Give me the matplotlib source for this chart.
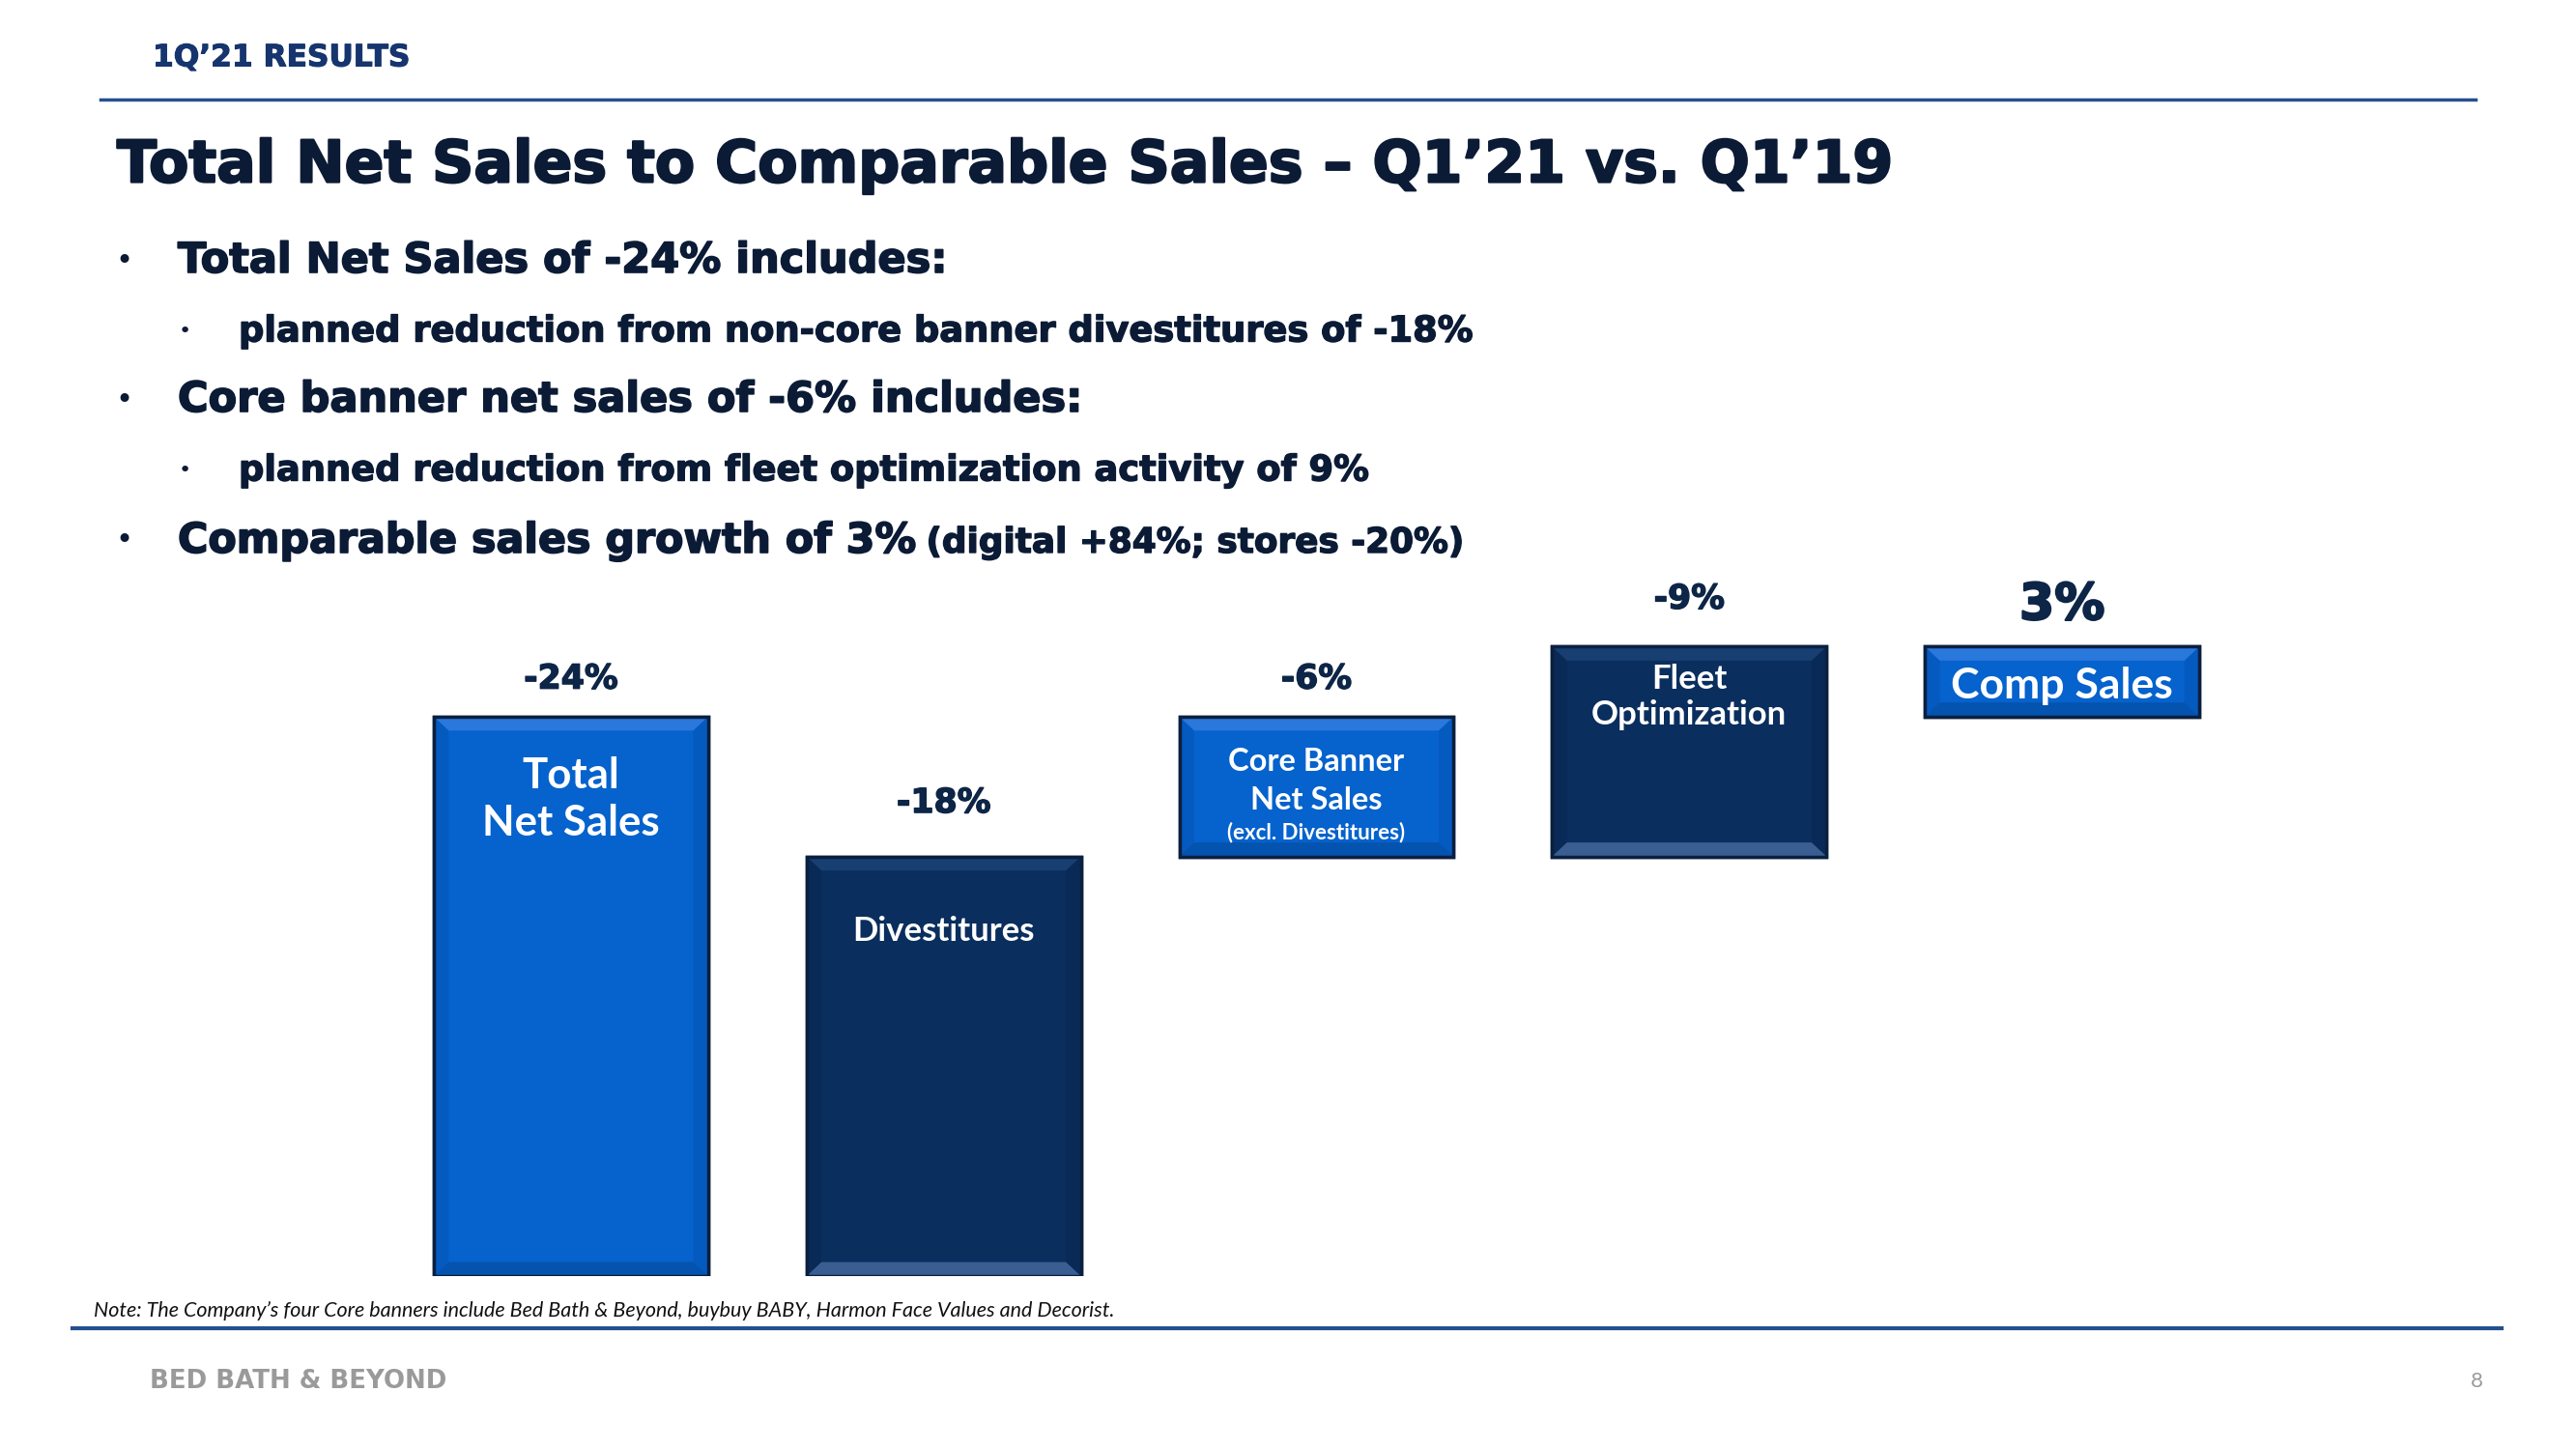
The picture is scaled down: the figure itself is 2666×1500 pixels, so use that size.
import matplotlib
matplotlib.use("Agg")
import matplotlib.pyplot as plt
import matplotlib.patheffects as pe
from matplotlib.patches import Polygon

# data
categories = ["Total\nNet Sales", "Divestitures", "Core Banner\nNet Sales", "Fleet\nOptimization", "Comp Sales"]
values = [-24, -18, -6, -9, 3]
value_labels = ["-24%", "-18%", "-6%", "-9%", "3%"]
bar_kind = ["light", "dark", "light", "dark", "light"]

bullets = [
    (0, "Total Net Sales of -24% includes:"),
    (1, "planned reduction from non-core banner divestitures of -18%"),
    (0, "Core banner net sales of -6% includes:"),
    (1, "planned reduction from fleet optimization activity of 9%"),
]
last_bullet = "Comparable sales growth of 3%"
last_bullet_note = "(digital +84%; stores -20%)"

W, H = 2666, 1500
LIGHT = "#0662CC"
DARK = "#0A2E5E"
EDGE = "#0B1F3F"
NAVY = "#0D2546"
INK = "#0B1B35"
HEAD = "DejaVu Sans"
BODY = "Lato"


def fx(x):
    return x / W


def fy(y):
    return 1 - y / H


def heavy(color, w=1.2):
    return [pe.withStroke(linewidth=w, foreground=color)]


fig = plt.figure(figsize=(W / 100, H / 100), dpi=100)
fig.patch.set_facecolor("white")

# header
fig.text(fx(158), fy(60), "1Q\u201921 RESULTS", family=HEAD, weight="bold", fontsize=22.5,
         color="#16356E", va="center", ha="left", path_effects=heavy("#16356E", 0.8))
fig.add_artist(plt.Line2D([fx(104), fx(2562)], [fy(103), fy(103)], color="#24508F", lw=2.5))
fig.text(fx(121), fy(172), "Total Net Sales to Comparable Sales \u2013 Q1\u201921 vs. Q1\u201919",
         family=HEAD, weight="bold", fontsize=43.3, color=INK, va="center", ha="left",
         path_effects=heavy(INK, 1.6))

# bullets
ys = [270, 343, 414, 487]
for (lvl, txt), y in zip(bullets, ys):
    if lvl == 0:
        fig.text(fx(128), fy(y), "\u2022", fontsize=22, color=INK, va="center", ha="center")
        fig.text(fx(184), fy(y), txt, family=HEAD, weight="bold", fontsize=31, color=INK,
                 va="center", ha="left", path_effects=heavy(INK, 1.2))
    else:
        fig.text(fx(191), fy(y), "\u2022", fontsize=16, color=INK, va="center", ha="center")
        fig.text(fx(247), fy(y), txt, family=HEAD, weight="bold", fontsize=26.5, color=INK,
                 va="center", ha="left", path_effects=heavy(INK, 1.0))

fig.text(fx(128), fy(560), "\u2022", fontsize=22, color=INK, va="center", ha="center")
t = fig.text(fx(184), fy(560), last_bullet, family=HEAD, weight="bold", fontsize=30.8,
             color=INK, va="center", ha="left", path_effects=heavy(INK, 1.2))
r = fig.canvas.get_renderer()
bb = t.get_window_extent(r)
fig.text(bb.x1 / W + fx(10), fy(562), last_bullet_note, family=HEAD, weight="bold", fontsize=25.8,
         color=INK, va="center", ha="left", path_effects=heavy(INK, 1.0))

# waterfall
ax = fig.add_axes([398 / W, (H - 1321) / H, 1929 / W, 724 / H])
ax.set_xlim(-0.5, 4.5)
ax.set_ylim(0, 30)
ax.axis("off")

heights = [abs(v) for v in values]
bottoms = [0, 0, heights[1], heights[1], heights[1] + heights[3] - heights[4]]
xs = list(range(len(values)))
bw = 0.736
cols = [LIGHT if k == "light" else DARK for k in bar_kind]
ax.bar(xs, heights, bottom=bottoms, width=bw, color=cols, edgecolor=EDGE, linewidth=2.5, zorder=2)

# bevel strips
dx, dy = 0.04, 0.6
for x, b, h, k in zip(xs, bottoms, heights, bar_kind):
    l, rr, top = x - bw / 2, x + bw / 2, b + h
    topc = "#2A78DC" if k == "light" else "#183F72"
    botc = "#0453AE" if k == "light" else "#3A5E92"
    sidec = "#055AC0" if k == "light" else "#092A56"
    ax.add_patch(Polygon([[l, b], [l + dx, b + dy], [l + dx, top - dy], [l, top]],
                         closed=True, color=sidec, lw=0, zorder=3))
    ax.add_patch(Polygon([[rr, b], [rr - dx, b + dy], [rr - dx, top - dy], [rr, top]],
                         closed=True, color=sidec, lw=0, zorder=3))
    ax.add_patch(Polygon([[l, top], [rr, top], [rr - dx, top - dy], [l + dx, top - dy]],
                         closed=True, color=topc, lw=0, zorder=3))
    ax.add_patch(Polygon([[l, b], [rr, b], [rr - dx, b + dy], [l + dx, b + dy]],
                         closed=True, color=botc, lw=0, zorder=3))
    ax.add_patch(Polygon([[l, b], [rr, b], [rr, top], [l, top]], closed=True, fill=False,
                         edgecolor=EDGE, lw=2.5, zorder=4))

# value labels
label_gap = [1.62, 2.3, 1.62, 2.05, 1.75]
for i, (x, b, h, lab) in enumerate(zip(xs, bottoms, heights, value_labels)):
    big = values[i] > 0
    ax.text(x, b + h + label_gap[i], lab, family=HEAD, weight="bold",
            fontsize=37.5 if big else 25, color=NAVY, ha="center", va="center",
            path_effects=heavy(NAVY, 1.6 if big else 1.0))

# inside labels
ax.text(xs[0], 24 - 3.55, "Total\nNet Sales", family=BODY, weight="bold", fontsize=31.5,
        color="white", ha="center", va="center", linespacing=1.3)
ax.text(xs[1], 18 - 3.2, "Divestitures", family=BODY, weight="bold", fontsize=25,
        color="white", ha="center", va="center")
ax.text(xs[2], 24 - 2.78, "Core Banner\nNet Sales", family=BODY, weight="bold", fontsize=23.5,
        color="white", ha="center", va="center", linespacing=1.45)
ax.text(xs[2], 24 - 4.95, "(excl. Divestitures)", family=BODY, weight="bold", fontsize=16,
        color="white", ha="center", va="center")
ax.text(xs[3], 27 - 2.15, "Fleet\nOptimization", family=BODY, weight="bold", fontsize=25,
        color="white", ha="center", va="center", linespacing=1.2)
ax.text(xs[4], 27 - 1.7, "Comp Sales", family=BODY, weight="bold", fontsize=32,
        color="white", ha="center", va="center")

# footer
fig.text(fx(97), fy(1357), "Note: The Company\u2019s four Core banners include Bed Bath & Beyond, buybuy BABY, Harmon Face Values and Decorist.",
         family=BODY, style="italic", fontsize=15.5, color="#111111", va="center", ha="left")
fig.add_artist(plt.Line2D([fx(75), fx(2589)], [fy(1375), fy(1375)], color="#24508F", lw=3))
fig.text(fx(155), fy(1430), "BED BATH & BEYOND", family=HEAD, weight="bold", fontsize=18.7,
         color="#9A9A9A", va="center", ha="left")
fig.text(fx(2570), fy(1430), "8", family=BODY, fontsize=16, color="#9A9A9A", va="center", ha="right")

fig.savefig("out.png", dpi=100, facecolor="white")
